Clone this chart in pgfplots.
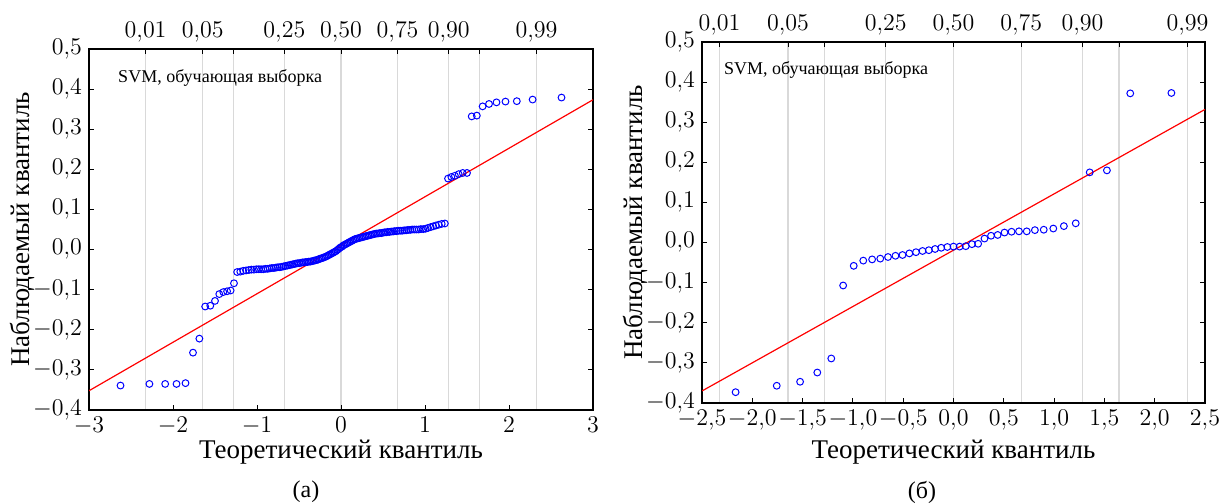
\documentclass[border=0pt]{standalone}
\usepackage{fontspec}
\setmainfont{Liberation Serif}
\usepackage{pgfplots}
\pgfplotsset{compat=1.18}

\pgfplotsset{
  qqbase/.style={
    scale only axis, anchor=south west,
    ymin=-0.4, ymax=0.5,
    tick align=inside,
    major tick length=2.5pt,
    tick label style={font=\fontsize{11.5}{12}\selectfont},
  },
  qqgrid/.style={
    qqbase,
    ytick=\empty,
    xtick={-2.326,-1.645,-1.2816,-0.674,0,0.674,1.2816,1.645,2.326},
    xticklabels={{$0{,}01$},{$0{,}05$},{},{$0{,}25$},{$0{,}50$},{$0{,}75$},{$0{,}90$},{},{$0{,}99$}},
    xtick pos=right, xticklabel pos=right,
    xmajorgrids,
    major grid style={black!15, line width=0.6pt},
    axis line style={draw=none},
    every tick/.style={black, line width=0.5pt},
  },
  qqmain/.style={
    qqbase,
    axis line style={line width=0.8pt},
    every tick/.style={black, line width=0.5pt},
    xtick pos=left,
    ytick pos=both, yticklabel pos=left,
    ytick={-0.4,-0.3,-0.2,-0.1,0,0.1,0.2,0.3,0.4,0.5},
    yticklabel style={/pgf/number format/.cd, fixed, fixed zerofill, precision=1, use comma},
    label style={font=\fontsize{13.5}{15}\selectfont},
    xlabel={Теоретический квантиль},
    ylabel={Наблюдаемый квантиль},
    ylabel style={at={(axis description cs:-0.133,0.5)}, anchor=center},
  },
  pts/.style={only marks, mark=o, blue, mark size=1.7pt, mark options={line width=0.5pt}},
  fit/.style={red, line width=0.6pt, no marks},
}

\begin{document}
\begin{tikzpicture}
\useasboundingbox (0,0) rectangle (609.5pt,-251.5pt);

% (a) grid and quantile ticks
\begin{axis}[qqgrid, at={(44.5pt,-205pt)}, width=252pt, height=180.5pt, xmin=-3, xmax=3]
\end{axis}
% (a) data
\begin{axis}[qqmain, at={(44.5pt,-205pt)}, width=252pt, height=180.5pt, xmin=-3, xmax=3,
  xtick={-3,-2,-1,0,1,2,3},
  xlabel style={at={(axis description cs:0.5,-0.116)}, anchor=center}]
\addplot[pts] coordinates {
(-2.625,-0.339) (-2.281,-0.335) (-2.093,-0.335) (-1.958,-0.335) (-1.851,-0.333) (-1.762,-0.257) (-1.686,-0.222) (-1.617,-0.142) (-1.556,-0.140) (-1.500,-0.128) (-1.449,-0.111) (-1.401,-0.106) (-1.356,-0.104) (-1.314,-0.102) (-1.274,-0.084) (-1.236,-0.056) (-1.199,-0.055)
(-1.164,-0.053) (-1.130,-0.052) (-1.098,-0.051) (-1.067,-0.050) (-1.036,-0.050) (-1.007,-0.049) (-0.979,-0.049) (-0.951,-0.049) (-0.924,-0.049) (-0.898,-0.048) (-0.873,-0.048) (-0.848,-0.047) (-0.823,-0.046) (-0.798,-0.046) (-0.775,-0.045) (-0.752,-0.044) (-0.729,-0.044) (-0.706,-0.043) (-0.684,-0.042) (-0.662,-0.041) (-0.640,-0.040) (-0.620,-0.039) (-0.599,-0.038) (-0.578,-0.037) (-0.557,-0.036) (-0.537,-0.035) (-0.517,-0.034) (-0.498,-0.034) (-0.478,-0.033) (-0.459,-0.032) (-0.440,-0.032) (-0.420,-0.031) (-0.401,-0.031) (-0.382,-0.030) (-0.364,-0.030) (-0.345,-0.029) (-0.327,-0.028) (-0.309,-0.027) (-0.290,-0.026) (-0.272,-0.025) (-0.254,-0.023) (-0.237,-0.022) (-0.219,-0.021) (-0.201,-0.019) (-0.183,-0.018) (-0.166,-0.016) (-0.148,-0.014) (-0.131,-0.012) (-0.113,-0.010) (-0.095,-0.008) (-0.078,-0.006) (-0.061,-0.004) (-0.043,-0.001) (-0.026,0.002) (-0.009,0.005)
(0.009,0.007) (0.026,0.010) (0.043,0.012) (0.061,0.014) (0.078,0.016) (0.095,0.018) (0.113,0.020) (0.131,0.022) (0.148,0.024) (0.166,0.026) (0.183,0.027) (0.201,0.028) (0.219,0.029) (0.237,0.030) (0.254,0.031) (0.272,0.032) (0.290,0.033) (0.309,0.034) (0.327,0.035) (0.345,0.036) (0.364,0.037) (0.382,0.038) (0.401,0.039) (0.420,0.040) (0.440,0.040) (0.459,0.041) (0.478,0.041) (0.498,0.042) (0.517,0.043) (0.537,0.043) (0.557,0.044) (0.578,0.044) (0.599,0.045) (0.620,0.045) (0.640,0.046) (0.662,0.046) (0.684,0.047) (0.706,0.047) (0.729,0.047) (0.752,0.048) (0.775,0.048) (0.798,0.049) (0.823,0.049) (0.848,0.050) (0.873,0.050) (0.898,0.050) (0.924,0.050) (0.951,0.051) (0.979,0.051) (1.007,0.052) (1.036,0.054) (1.067,0.056) (1.098,0.058) (1.130,0.060) (1.164,0.062) (1.199,0.064) (1.236,0.065)
(1.274,0.177) (1.314,0.181) (1.356,0.184) (1.401,0.188) (1.449,0.191) (1.500,0.191) (1.556,0.332) (1.617,0.334) (1.686,0.357) (1.762,0.363) (1.851,0.367) (1.958,0.369) (2.093,0.370) (2.281,0.374) (2.625,0.379)
};
\addplot[fit] coordinates {(-3,-0.352) (3,0.3735)};
\node[anchor=west, font=\fontsize{9}{10}\selectfont] at (rel axis cs:0.044,0.92) {SVM, обучающая выборка};
\end{axis}

% (б) grid and quantile ticks
\begin{axis}[qqgrid, at={(351pt,-201.5pt)}, width=251.5pt, height=180.5pt, xmin=-2.5, xmax=2.5]
\end{axis}
% (б) data
\begin{axis}[qqmain, at={(351pt,-201.5pt)}, width=251.5pt, height=180.5pt, xmin=-2.5, xmax=2.5,
  xtick={-2.5,-2,-1.5,-1,-0.5,0,0.5,1,1.5,2,2.5},
  xticklabel style={/pgf/number format/.cd, fixed, fixed zerofill, precision=1, use comma},
  xlabel style={at={(axis description cs:0.5,-0.136)}, anchor=center}]
\addplot[pts] coordinates {
(-2.166,-0.373) (-1.757,-0.357) (-1.525,-0.347) (-1.354,-0.324) (-1.215,-0.289) (-1.097,-0.107) (-0.992,-0.058) (-0.897,-0.045) (-0.809,-0.042) (-0.728,-0.040) (-0.651,-0.036) (-0.577,-0.033) (-0.507,-0.031) (-0.439,-0.027) (-0.373,-0.024) (-0.308,-0.021) (-0.245,-0.019) (-0.183,-0.016) (-0.122,-0.013) (-0.061,-0.011) (0,-0.010) (0.061,-0.010) (0.122,-0.009) (0.183,-0.004) (0.245,-0.003) (0.308,0.010) (0.373,0.017) (0.439,0.019) (0.507,0.025) (0.577,0.027) (0.651,0.028) (0.728,0.028) (0.809,0.031) (0.897,0.032) (0.992,0.035) (1.097,0.041) (1.215,0.048) (1.354,0.175) (1.525,0.180) (1.757,0.372) (2.166,0.373)
};
\addplot[fit] coordinates {(-2.5,-0.370) (2.5,0.332)};
\node[anchor=west, font=\fontsize{9}{10}\selectfont] at (rel axis cs:0.03,0.922) {SVM, обучающая выборка};
\end{axis}

\node[font=\fontsize{12}{14}\selectfont] at (153pt,-246pt) {(а)};
\node[font=\fontsize{12}{14}\selectfont] at (461pt,-246pt) {(б)};
\end{tikzpicture}
\end{document}
